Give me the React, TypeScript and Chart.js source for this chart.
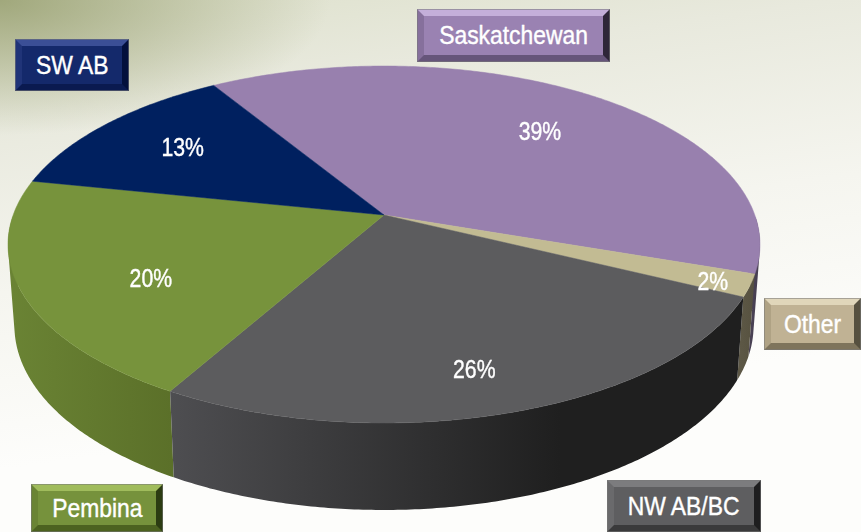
import React, { useEffect, useRef } from "react";
import { Chart, registerables } from "chart.js";

Chart.register(...registerables);

const categories = ["Saskatchewan", "Other", "NW AB/BC", "Pembina", "SW AB"];
const shares = [39, 2, 26, 20, 13];
const topColors = ["#9880AE", "#C2BB93", "#5C5C5E", "#77933C", "#00205F"];
// side wall: colour at the wall's left and right ends
const sideColors = [
  ["#4A4254", "#463E50"],
  ["#5E5947", "#56513F"],
  ["#4E4E51", "#1F1F1F"],
  ["#6A8334", "#5B7029"],
  ["#00163F", "#00163F"],
];
// label placement within each slice: fraction of radius, degrees of shift
const labelRadius = [0.697, 0.908, 0.8, 0.685, 0.718];
const labelShift = [2.4, 0.8, 1.8, -5.6, 1];

const buttons = [
  { text: "SW AB", l: 15, t: 39, w: 114, h: 52, face: "#14296B", top: "#3B4F96", left: "#203478", right: "#03103C", bottom: "#0A1A50" },
  { text: "Saskatchewan", l: 417, t: 9, w: 193, h: 53, face: "#9A82B2", top: "#C4AFDA", left: "#86709C", right: "#2E2638", bottom: "#66557A" },
  { text: "Other", l: 764, t: 298, w: 97, h: 52, face: "#C0B294", top: "#E0D6BA", left: "#AFA284", right: "#56503F", bottom: "#7E745C" },
  { text: "NW AB/BC", l: 607, t: 480, w: 154, h: 52, face: "#5E5E60", top: "#7C7C7E", left: "#6A6A6C", right: "#1E1E1F", bottom: "#3A3A3B" },
  { text: "Pembina", l: 31, t: 484, w: 132, h: 48, face: "#76923C", top: "#A0BC5C", left: "#6A8434", right: "#2C3C12", bottom: "#4C6220" },
];

const FONT_FAMILY = '"Liberation Sans", sans-serif';

// perspective view of the pie's top face
const VIEW = { cx: 384, cy: 215, a: 370.8, b: 173.6, k: 0.1653 };
const project = (u: number, v: number): [number, number] => {
  const d = 1 - VIEW.k * v;
  return [VIEW.cx + (VIEW.a * u) / d, VIEW.cy + (VIEW.b * v) / d];
};
const lower = (u: number, v: number): [number, number] => {
  const [x, y] = project(u, v);
  return [VIEW.cx + (x - VIEW.cx) * 0.983, y + 80 + 7 * v];
};
const rimAngles = (s: number, e: number) => {
  const n = Math.max(2, Math.ceil((e - s) / 0.01));
  const out: number[] = [];
  for (let i = 0; i <= n; i++) out.push(s + ((e - s) * i) / n);
  return out;
};

const piePlugin = {
  id: "perspectivePie",
  beforeDatasetsDraw(chart: any) {
    const ctx: CanvasRenderingContext2D = chart.ctx;
    const arcs = chart.getDatasetMeta(0).data as any[];
    // side walls: the part of each slice's rim that faces the viewer
    [0, 4, 3, 1, 2].forEach((i) => {
      const as = rimAngles(arcs[i].startAngle, arcs[i].endAngle).filter((a) => Math.sin(a) > 0);
      if (as.length < 2) return;
      const top = as.map((a) => project(Math.cos(a), Math.sin(a)));
      const bot = as.map((a) => lower(Math.cos(a), Math.sin(a)));
      const xs = top.concat(bot).map((p) => p[0]);
      const minX = i === 2 ? 170 : i === 3 ? 12 : Math.min(...xs);
      const maxX = i === 2 ? 560 : i === 3 ? 172 : Math.max(...xs);
      const g = ctx.createLinearGradient(minX, 0, maxX, 0);
      g.addColorStop(0, sideColors[i][0]);
      g.addColorStop(1, sideColors[i][1]);
      ctx.fillStyle = g;
      ctx.beginPath();
      for (let j = 0; j + 1 < as.length; j++) {
        const q = [top[j], top[j + 1], bot[j + 1], bot[j]];
        let area = 0;
        q.forEach((p, m) => {
          const n = q[(m + 1) % 4];
          area += p[0] * n[1] - n[0] * p[1];
        });
        if (area < 0) q.reverse();
        q.forEach((p, m) => (m ? ctx.lineTo(p[0], p[1]) : ctx.moveTo(p[0], p[1])));
        ctx.closePath();
      }
      ctx.fill("nonzero");
    });
    // top face
    arcs.forEach((arc, i) => {
      const as = rimAngles(arc.startAngle, arc.endAngle);
      ctx.fillStyle = topColors[i];
      ctx.strokeStyle = topColors[i];
      ctx.lineWidth = 0.5;
      ctx.beginPath();
      ctx.moveTo(VIEW.cx, VIEW.cy);
      as.forEach((a) => {
        const [x, y] = project(Math.cos(a), Math.sin(a));
        ctx.lineTo(x, y);
      });
      ctx.closePath();
      ctx.fill();
      ctx.stroke();
    });
    // percentages
    ctx.font = `25px ${FONT_FAMILY}`;
    ctx.fillStyle = "#FFFFFF";
    ctx.strokeStyle = "#FFFFFF";
    ctx.lineWidth = 0.4;
    ctx.textAlign = "center";
    ctx.textBaseline = "middle";
    arcs.forEach((arc, i) => {
      const mid = (arc.startAngle + arc.endAngle) / 2 + (labelShift[i] * Math.PI) / 180;
      const r = labelRadius[i];
      const [x, y] = project(r * Math.cos(mid), r * Math.sin(mid));
      ctx.save();
      ctx.translate(x, y + 2.5);
      ctx.scale(0.85, 1);
      ctx.fillText(`${shares[i]}%`, 0, 0);
      ctx.strokeText(`${shares[i]}%`, 0, 0);
      ctx.restore();
    });
    return false;
  },
};

export default function App() {
  const ref = useRef<HTMLCanvasElement>(null);
  useEffect(() => {
    document.body.style.margin = "0";
    const chart = new Chart(ref.current!, {
      type: "pie",
      data: {
        labels: categories,
        datasets: [{ data: shares, backgroundColor: topColors, borderWidth: 0 }],
      },
      options: {
        animation: false,
        responsive: false,
        rotation: -31.6,
        layout: { padding: 0 },
        plugins: { legend: { display: false }, tooltip: { enabled: false } },
      },
      plugins: [piePlugin],
    });
    return () => chart.destroy();
  }, []);
  return (
    <div
      style={{
        position: "relative",
        width: 861,
        height: 532,
        overflow: "hidden",
        background:
          "radial-gradient(ellipse 330px 135px at 0 0, rgba(150,158,110,.85) 0, rgba(150,158,110,0) 100%), linear-gradient(172deg, #DDE0CB 0, #E8E9DD 18%, #F5F5EF 45%, #FDFDFB 72%)",
      }}
    >
      <canvas ref={ref} width={861} height={532} style={{ position: "absolute", left: 0, top: 0 }} />
      {buttons.map((b) => (
        <div
          key={b.text}
          style={{
            position: "absolute",
            left: b.l,
            top: b.t,
            width: b.w,
            height: b.h,
            boxSizing: "border-box",
            borderStyle: "solid",
            borderWidth: 7,
            borderColor: `${b.top} ${b.right} ${b.bottom} ${b.left}`,
            outline: "1px solid rgba(120,120,120,.55)",
            outlineOffset: -1,
            background: b.face,
            color: "#FFFFFF",
            font: `26px ${FONT_FAMILY}`,
            WebkitTextStroke: "0.4px #FFFFFF",
            display: "flex",
            alignItems: "center",
            justifyContent: "center",
            whiteSpace: "nowrap",
          }}
        >
          <span style={{ display: "inline-block", transform: "scaleX(0.88)" }}>{b.text}</span>
        </div>
      ))}
    </div>
  );
}
